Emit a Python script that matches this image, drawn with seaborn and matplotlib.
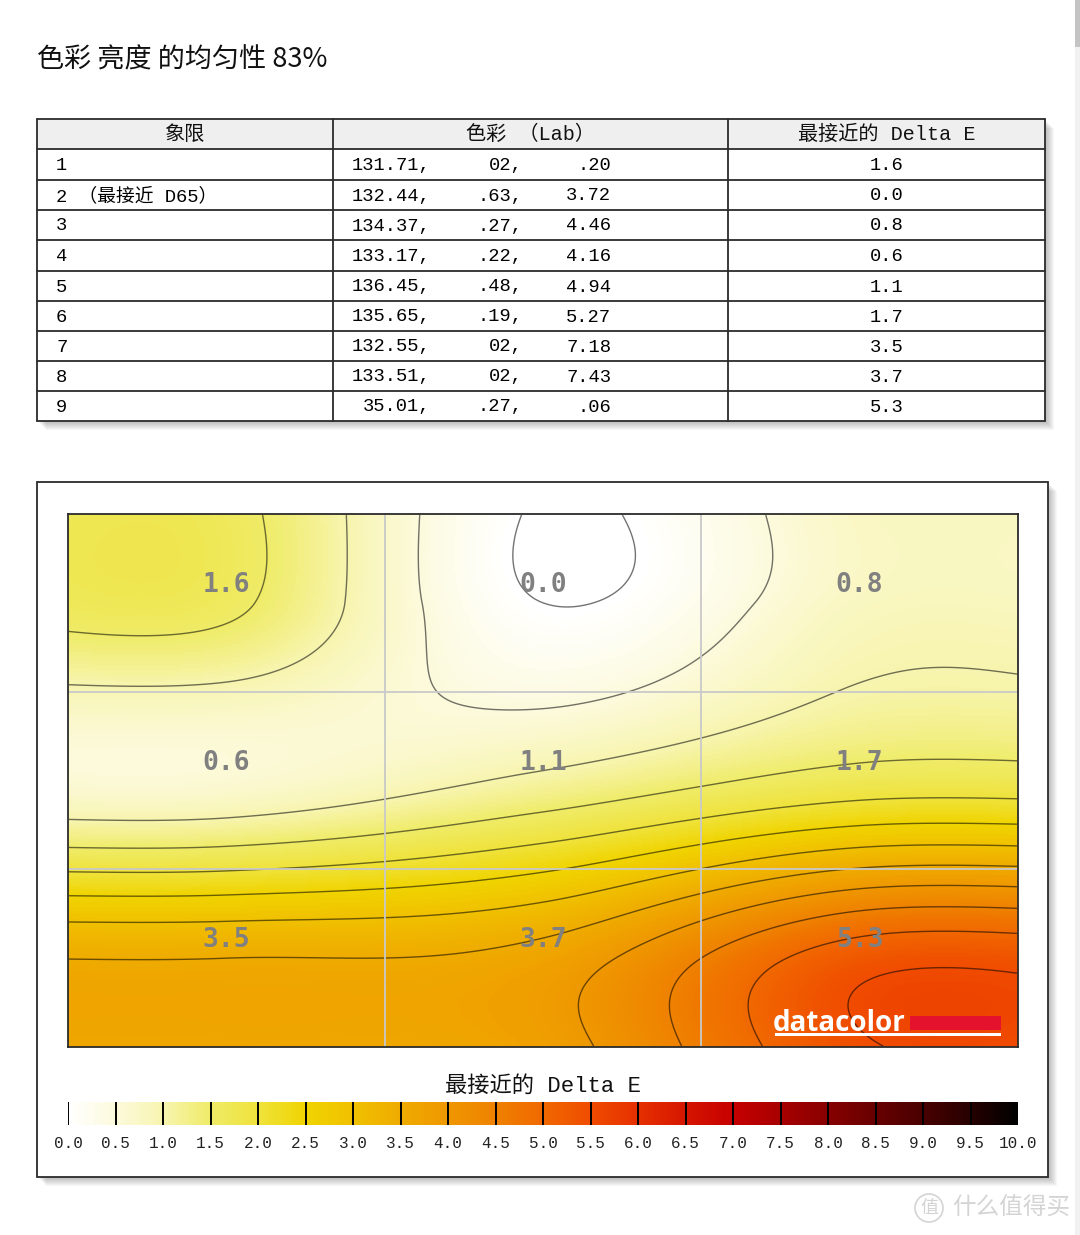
import numpy as np
import pandas as pd
import matplotlib
matplotlib.use("Agg")
import matplotlib.pyplot as plt
import matplotlib.cm as cm
import matplotlib.transforms as mtransforms
from matplotlib.colors import LinearSegmentedColormap, Normalize
from matplotlib.patches import Rectangle, Circle
import seaborn as sns

# ---------------- data ----------------
title_text = "色彩 亮度 的均匀性 83%"
table_headers = ["象限", "色彩 （Lab）", "最接近的 Delta E"]
quadrant_labels = ["1", "2 （最接近 D65）", "3", "4", "5", "6", "7", "8", "9"]
lab_L = ["131.71,", "132.44,", "134.37,", "133.17,", "136.45,", "135.65,", "132.55,", "133.51,", "35.01,"]
lab_a = ["02,", ".63,", ".27,", ".22,", ".48,", ".19,", "02,", "02,", ".27,"]
lab_b = [".20", "3.72", "4.46", "4.16", "4.94", "5.27", "7.18", "7.43", ".06"]
delta_e = [1.6, 0.0, 0.8, 0.6, 1.1, 1.7, 3.5, 3.7, 5.3]
colorbar_title = "最接近的 Delta E"
colorbar_ticks = [0.0, 0.5, 1.0, 1.5, 2.0, 2.5, 3.0, 3.5, 4.0, 4.5, 5.0,
                  5.5, 6.0, 6.5, 7.0, 7.5, 8.0, 8.5, 9.0, 9.5, 10.0]
contour_levels = [0.0, 0.5, 1.0, 1.5, 2.0, 2.5, 3.0, 3.5, 4.0, 4.5, 5.0, 5.5, 6.0]
cmap_stops = [0.0, 0.5, 1.0, 1.5, 2.0, 2.5, 3.0, 3.5, 4.0, 4.5, 5.0,
              5.5, 6.0, 6.5, 7.0, 7.5, 8.0, 8.5, 9.0, 9.5, 10.0]
cmap_colors = ["#ffffff", "#fcfadb", "#f7f4ae", "#efeb66", "#efe23a", "#f0d400",
               "#f0c000", "#efab00", "#ef9700", "#ef8100", "#f06800", "#f04c00",
               "#e63000", "#d61600", "#c60000", "#a80000", "#880000", "#680000",
               "#4a0000", "#280000", "#000000"]

# ---------------- setup ----------------
W, H = 1080, 1235
sns.set_theme(style="white")
plt.rcParams["font.family"] = ["Noto Sans CJK SC", "DejaVu Sans"]
MIX = ["Liberation Mono", "Noto Sans CJK SC"]

fig = plt.figure(figsize=(W / 100, H / 100), dpi=100)
fig.patch.set_facecolor("white")


def px_axes(x0, y0, x1, y1):
    return fig.add_axes([x0 / W, 1 - y1 / H, (x1 - x0) / W, (y1 - y0) / H])


cmap = LinearSegmentedColormap.from_list(
    "de", [(v / 10.0, c) for v, c in zip(cmap_stops, cmap_colors)])

# background overlay (pixel coordinates)
bg = fig.add_axes([0, 0, 1, 1])
bg.set_xlim(0, W)
bg.set_ylim(H, 0)
bg.axis("off")


def shadow(x0, y0, x1, y1):
    for k in range(1, 10):
        bg.add_patch(Rectangle((x0 + k, y0 + k), x1 - x0, y1 - y0,
                               facecolor="black", alpha=0.03, lw=0))


# title
bg.text(37, 60, title_text, fontsize=19.5, ha="left", va="center", color="#111111")

# ---------------- table ----------------
x_cols = [37, 333, 728, 1045]
y_rows = [119, 149, 180, 210, 240, 271, 301, 331, 361, 391, 421]
shadow(x_cols[0], y_rows[0], x_cols[-1], y_rows[-1])
bg.add_patch(Rectangle((x_cols[0], y_rows[0]), x_cols[-1] - x_cols[0],
                       y_rows[-1] - y_rows[0], facecolor="white", lw=0))
bg.add_patch(Rectangle((x_cols[0], y_rows[0]), x_cols[-1] - x_cols[0],
                       y_rows[1] - y_rows[0], facecolor="#efefef", lw=0))
for y in y_rows:
    bg.plot([x_cols[0], x_cols[-1]], [y, y], color="#2b2b2b", lw=1.3)
for x in x_cols:
    bg.plot([x, x], [y_rows[0], y_rows[-1]], color="#2b2b2b", lw=1.3)

hy = (y_rows[0] + y_rows[1]) / 2
bg.text(185, hy, table_headers[0], family=MIX, fontsize=14.5, ha="center", va="center", color="#111")
bg.text(530, hy, table_headers[1], family=MIX, fontsize=14.5, ha="center", va="center", color="#111")
bg.text(887, hy, table_headers[2], family=MIX, fontsize=14.5, ha="center", va="center", color="#111")
for i in range(9):
    yc = (y_rows[i + 1] + y_rows[i + 2]) / 2 + 1
    kw = dict(family=MIX, fontsize=13.5, va="center", color="#000")
    bg.text(56, yc, quadrant_labels[i], ha="left", **kw)
    bg.text(430, yc, lab_L[i], ha="right", **kw)
    bg.text(523, yc, lab_a[i], ha="right", **kw)
    bg.text(611, yc, lab_b[i], ha="right", **kw)
    bg.text(887, yc, f"{delta_e[i]:.1f}", ha="center", **kw)

# ---------------- contour panel frame ----------------
shadow(37, 482, 1048, 1177)
bg.add_patch(Rectangle((37, 482), 1048 - 37, 1177 - 482, facecolor="white",
                       edgecolor="#2b2b2b", lw=1.3))

# scrollbar strip
bg.add_patch(Rectangle((1075, 0), 5, H, facecolor="#f1f1f1", lw=0))
bg.add_patch(Rectangle((1075, 0), 5, 47, facecolor="#c4c4c4", lw=0))


# ---------------- interpolated field ----------------
# cubic Hermite (Catmull-Rom slopes) through the cell centres; the outer
# values are repeated on virtual knots just beyond the border.
def hermite_1d(vals, n_samples, d=0.8):
    n = len(vals)
    xs = np.concatenate([[0.5 - d], np.arange(n) + 0.5, [n - 0.5 + d]])
    fs = np.concatenate([[vals[0]], vals, [vals[-1]]])
    m = np.zeros_like(fs)
    for i in range(1, len(xs) - 1):
        m[i] = (fs[i + 1] - fs[i - 1]) / (xs[i + 1] - xs[i - 1])
    u = (np.arange(n_samples) + 0.5) / n_samples * n
    seg = np.clip(np.searchsorted(xs, u) - 1, 0, len(xs) - 2)
    h = xs[seg + 1] - xs[seg]
    t = (u - xs[seg]) / h
    h00 = 2 * t ** 3 - 3 * t ** 2 + 1
    h10 = t ** 3 - 2 * t ** 2 + t
    h01 = -2 * t ** 3 + 3 * t ** 2
    h11 = t ** 3 - t ** 2
    return h00 * fs[seg] + h10 * h * m[seg] + h01 * fs[seg + 1] + h11 * h * m[seg + 1]


def weight_matrix(n_samples, n_nodes=3):
    return np.stack([hermite_1d(np.eye(n_nodes)[k], n_samples)
                     for k in range(n_nodes)], axis=1)


grid = np.array(delta_e).reshape(3, 3)
nx, ny = 475, 267
Z = weight_matrix(ny) @ grid @ weight_matrix(nx).T
field = pd.DataFrame(Z)

ax = px_axes(68, 514, 1018, 1047)
sns.heatmap(field, ax=ax, cmap=cmap, vmin=0, vmax=10, cbar=False,
            xticklabels=False, yticklabels=False, rasterized=True)
X = np.arange(nx) + 0.5
Y = np.arange(ny) + 0.5
ax.contour(X, Y, Z, levels=contour_levels, colors="black", linewidths=1.0, alpha=0.55)
for k in (1, 2):
    ax.axvline(nx * k / 3, color="#c9c9c9", lw=1.3)
    ax.axhline(ny * k / 3, color="#c9c9c9", lw=1.3)
lift = mtransforms.ScaledTranslation(0, 18 / 100, fig.dpi_scale_trans)
for r in range(3):
    for c in range(3):
        ax.text((c + 0.5) * nx / 3, (r + 0.5) * ny / 3, f"{grid[r, c]:.1f}",
                transform=ax.transData + lift, ha="center", va="center",
                family="DejaVu Sans Mono", fontweight="bold", fontsize=19,
                color="#808080")
for sp in ax.spines.values():
    sp.set_visible(True)
    sp.set_color("#2b2b2b")
    sp.set_linewidth(1.3)

# ---------------- colorbar ----------------
cax = px_axes(68, 1102, 1018, 1125)
cb = fig.colorbar(cm.ScalarMappable(norm=Normalize(0, 10), cmap=cmap), cax=cax,
                  orientation="horizontal")
cb.outline.set_visible(False)
cb.set_ticks(colorbar_ticks)
cb.set_ticklabels([f"{t:.1f}" for t in colorbar_ticks])
cax.tick_params(length=0, pad=8)
for lbl in cax.get_xticklabels():
    lbl.set_fontfamily("Liberation Mono")
    lbl.set_fontsize(11.5)
    lbl.set_color("#222222")
cax.vlines(colorbar_ticks[:-1], 0, 1, colors="black", lw=1.4)
cax.set_title(colorbar_title, family=MIX, fontsize=16, pad=7, color="#111")

# ---------------- foreground: logo & watermark ----------------
fg = fig.add_axes([0, 0, 1, 1])
fg.set_xlim(0, W)
fg.set_ylim(H, 0)
fg.axis("off")
fg.patch.set_alpha(0)
fg.text(773, 1031, "datacolor", family="Open Sans", fontweight="bold", fontsize=20,
        color="white", ha="left", va="baseline")
fg.add_patch(Rectangle((910, 1016), 91, 14, facecolor="#e5122d", lw=0))
fg.add_patch(Rectangle((775, 1033), 226, 2.5, facecolor="white", lw=0))
fg.add_patch(Circle((929, 1208), 14, facecolor="none", edgecolor="#d4d4d4", lw=1.2))
fg.text(929, 1208, "值", fontsize=13, color="#d4d4d4", ha="center", va="center")
fg.text(952, 1208, "什么值得买", fontsize=17, color="#d4d4d4", ha="left", va="center")

fig.savefig("out.png", dpi=100)
